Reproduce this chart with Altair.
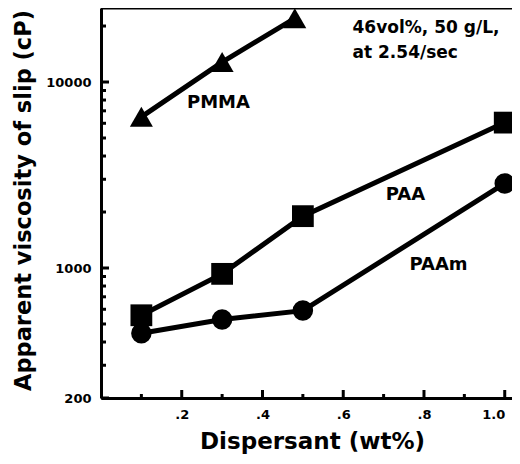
import altair as alt
import pandas as pd

# ---- data ----
pmma_x = [0.1, 0.3, 0.48]
pmma_y = [6500, 12800, 22000]
paa_x = [0.1, 0.3, 0.5, 1.0]
paa_y = [557, 930, 1900, 6050]
paam_x = [0.1, 0.3, 0.5, 1.0]
paam_y = [446, 528, 590, 2850]

x_major = [0.2, 0.4, 0.6, 0.8, 1.0]
x_minor = [0.1, 0.3, 0.5, 0.7, 0.9]
y_labels = [200, 1000, 10000]
y_minor = [300, 400, 500, 600, 700, 800, 900,
           2000, 3000, 4000, 5000, 6000, 7000, 8000, 9000, 20000]

series_labels = ["PMMA", "PAA", "PAAm"]
series_label_x = [0.291, 0.754, 0.836]
series_label_y = [7680, 2460, 1034]
note_lines = ["46vol%, 50 g/L,", "at 2.54/sec"]
note_x = [0.623, 0.623]
note_y = [19500, 14300]

W, H = 411, 390
FONT = "DejaVu Sans"

rows = []
for name, xs, ys in [("PMMA", pmma_x, pmma_y), ("PAA", paa_x, paa_y), ("PAAm", paam_x, paam_y)]:
    for a, b in zip(xs, ys):
        rows.append({"series": name, "x": a, "y": b})
df = pd.DataFrame(rows)

xscale = alt.Scale(domain=[0, 1.018], nice=False, zero=False)
yscale = alt.Scale(type="log", domain=[200, 25000], nice=False)

xaxis = alt.Axis(values=x_major, ticks=False, grid=False, domainWidth=3, domainColor="black",
                 labelExpr="datum.value >= 1 ? '1.0' : replace(format(datum.value, '.1f'), '0.', '.')",
                 labelFont=FONT, labelFontSize=13, labelFontWeight="bold", labelColor="black",
                 labelPadding=10, labelFlush=10,
                 title="Dispersant (wt%)", titleFont=FONT, titleFontSize=23,
                 titleFontWeight="bold", titleColor="black", titlePadding=9, titleX=211)
yaxis = alt.Axis(values=y_labels, ticks=False, grid=False, domainWidth=3, domainColor="black",
                 format="d", labelFont=FONT, labelFontSize=13, labelFontWeight="bold",
                 labelColor="black", labelPadding=10,
                 title="Apparent viscosity of slip (cP)", titleFont=FONT, titleFontSize=22.5,
                 titleFontWeight="bold", titleColor="black", titlePadding=10, titleY=192)

base = alt.Chart(df)
lines = base.mark_line(color="black", strokeWidth=5, clip=True).encode(
    x=alt.X("x:Q", scale=xscale, axis=xaxis),
    y=alt.Y("y:Q", scale=yscale, axis=yaxis),
    detail="series:N",
)
points = base.mark_point(filled=True, opacity=1, color="black", clip=True).encode(
    x="x:Q", y="y:Q",
    shape=alt.Shape("series:N", scale=alt.Scale(domain=["PMMA", "PAA", "PAAm"],
                                                range=["triangle-up", "square", "circle"]),
                    legend=None),
    size=alt.Size("series:N", scale=alt.Scale(domain=["PMMA", "PAA", "PAAm"],
                                              range=[530, 420, 470]), legend=None),
)

lab_df = pd.DataFrame({"t": series_labels, "x": series_label_x, "y": series_label_y})
labels = alt.Chart(lab_df).mark_text(font=FONT, fontSize=18, fontWeight="bold", color="black").encode(
    x="x:Q", y="y:Q", text="t:N")

note_df = pd.DataFrame({"t": note_lines, "x": note_x, "y": note_y})
note = alt.Chart(note_df).mark_text(font=FONT, fontSize=17, fontWeight="bold", color="black",
                                    align="left").encode(x="x:Q", y="y:Q", text="t:N")

xmaj = alt.Chart(pd.DataFrame({"x": x_major})).mark_rule(strokeWidth=3, color="black").encode(
    x="x:Q", y=alt.value(H), y2=alt.value(H - 8))
xmin = alt.Chart(pd.DataFrame({"x": x_minor})).mark_rule(strokeWidth=3, color="black").encode(
    x="x:Q", y=alt.value(H), y2=alt.value(H - 4))
ymaj = alt.Chart(pd.DataFrame({"y": y_labels})).mark_rule(strokeWidth=3, color="black").encode(
    y="y:Q", x=alt.value(0), x2=alt.value(8))
ymin = alt.Chart(pd.DataFrame({"y": y_minor})).mark_rule(strokeWidth=3, color="black").encode(
    y="y:Q", x=alt.value(0), x2=alt.value(5))
top = alt.Chart(pd.DataFrame({"a": [0]})).mark_rule(strokeWidth=3, color="black").encode(
    x=alt.value(0), x2=alt.value(W), y=alt.value(0))

chart = alt.layer(lines, points, labels, note, xmaj, xmin, ymaj, ymin, top).properties(
    width=W, height=H,
    autosize=alt.AutoSizeParams(type="none"),
    padding={"left": 93, "top": 0, "right": 0, "bottom": 60},
).configure_view(strokeWidth=0).configure(background="white")

chart.save("out.html", embed_options={"renderer": "svg", "actions": False})
